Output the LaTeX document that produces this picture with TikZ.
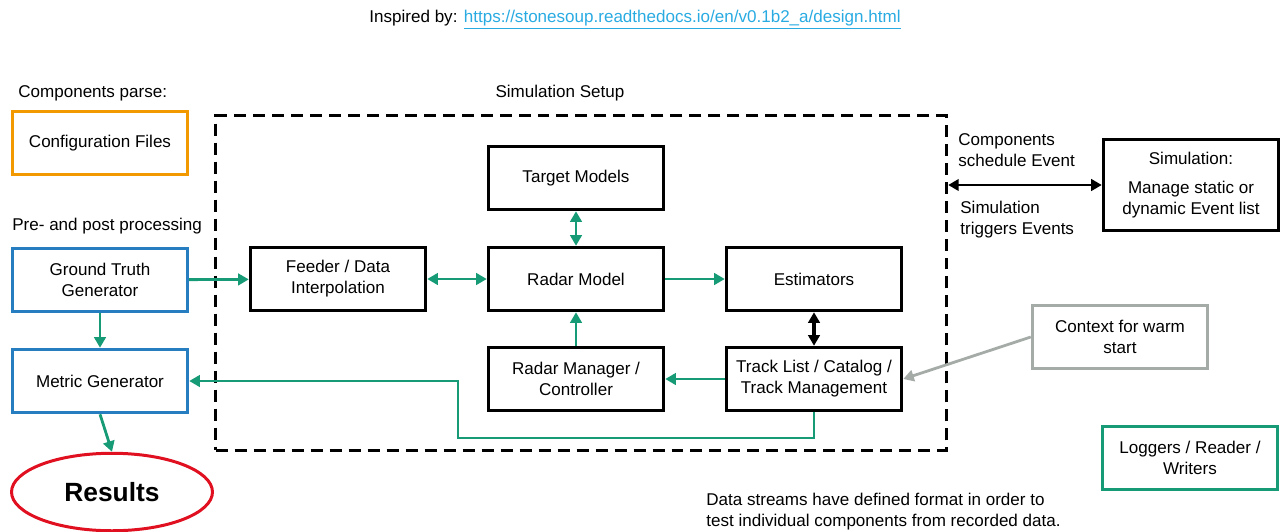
\documentclass[tikz,border=0pt]{standalone}
\usepackage{fontspec}
\setmainfont{Liberation Sans}
\usetikzlibrary{shapes.geometric,arrows.meta}
\definecolor{boxorange}{RGB}{242,153,0}
\definecolor{boxblue}{RGB}{38,125,192}
\definecolor{flowgreen}{RGB}{22,155,118}
\definecolor{resred}{RGB}{224,16,32}
\definecolor{ctxgray}{RGB}{165,172,168}
\definecolor{linkblue}{RGB}{41,171,226}
\tikzset{
  base/.style={font=\fontsize{9.7}{12}\selectfont, align=center},
  block/.style={base, draw, line width=2pt, minimum width=3.5cm, minimum height=1.26cm, inner sep=2pt},
  tip/.style={Triangle[length=6pt,width=6.5pt]},
  flow/.style={draw=flowgreen, line width=1.6pt, -{Triangle[length=6pt,width=6.5pt]}},
  both/.style={{Triangle[length=6pt,width=6.5pt]}-{Triangle[length=6pt,width=6.5pt]}},
  label/.style={base, inner sep=0pt},
}
\begin{document}
\begin{tikzpicture}[x=0.02cm, y=-0.02cm]
    \useasboundingbox (0,0) rectangle (1283,531);
    % header
    \node[label] (inspired) at (635,20) {Inspired by: \textcolor{linkblue}{\underline{https://stonesoup.readthedocs.io/en/v0.1b2\_a/design.html}}};
    % left column
    \node[label, anchor=west] (parse) at (18,93) {Components parse:};
    \node[block, draw=boxorange] (config) at (100,143) {Configuration Files};
    \node[label, anchor=west] (prepost) at (12,226) {Pre- and post processing};
    \node[block, draw=boxblue] (gt) at (100,280) {Ground Truth\\Generator};
    \node[block, draw=boxblue] (metric) at (100,381) {Metric Generator};
    \node[draw=resred, line width=1.7pt, ellipse, minimum width=4.02cm, minimum height=1.55cm, inner sep=0pt,
          font=\fontsize{15}{17}\selectfont\bfseries] (results) at (112,492) {Results};
    % simulation setup
    \node[draw, line width=2pt, dash pattern=on 0.24cm off 0.14cm, minimum width=14.62cm, minimum height=6.7cm] (setup) at (581,283) {};
    \node[label] (setuplbl) at (560,93) {Simulation Setup};
    \node[block] (target) at (576,178) {Target Models};
    \node[block] (feeder) at (338,279) {Feeder / Data\\Interpolation};
    \node[block] (radar) at (576,279) {Radar Model};
    \node[block] (estim) at (814,279) {Estimators};
    \node[block] (manager) at (576,379) {Radar Manager /\\Controller};
    \node[block] (track) at (814,379) {Track List / Catalog /\\Track Management};
    % right side
    \node[block, minimum height=1.82cm] (sim) at (1191,185) {Simulation:\\[4.5pt]Manage static or\\dynamic Event list};
    \node[label, anchor=west, align=left] (schedule) at (958,150) {Components\\schedule Event};
    \node[label, anchor=west, align=left] (triggers) at (960,220) {Simulation\\triggers Events};
    \node[block, draw=ctxgray] (context) at (1120,337) {Context for warm\\start};
    \node[block, draw=flowgreen] (loggers) at (1190,458) {Loggers / Reader /\\Writers};
    \node[label, anchor=west, align=left] (streams) at (706,512) {Data streams have defined format in order to\\test individual components from recorded data.};
    % connectors
    \draw[flow] (gt) -- (feeder);
    \draw[flow, both] (feeder) -- (radar);
    \draw[flow, both] (radar) -- (target);
    \draw[flow] (radar) -- (estim);
    \draw[flow] (manager) -- (radar);
    \draw[flow] (track) -- (manager);
    \draw[line width=2.2pt, both] (estim) -- (track);
    \coordinate (turn) at (458,438);
    \draw[flow] (track.south) |- (turn) |- (metric.east);
    \draw[flow] (gt) -- (metric);
    \draw[flow] (metric.south) -- (results.north);
    \draw[draw=ctxgray, line width=1.6pt, -{Triangle[length=6pt,width=6.5pt]}] (context.west) -- (track.east);
    \draw[line width=1.6pt, both] (setup.east |- sim.west) -- (sim.west);
\end{tikzpicture}
\end{document}
